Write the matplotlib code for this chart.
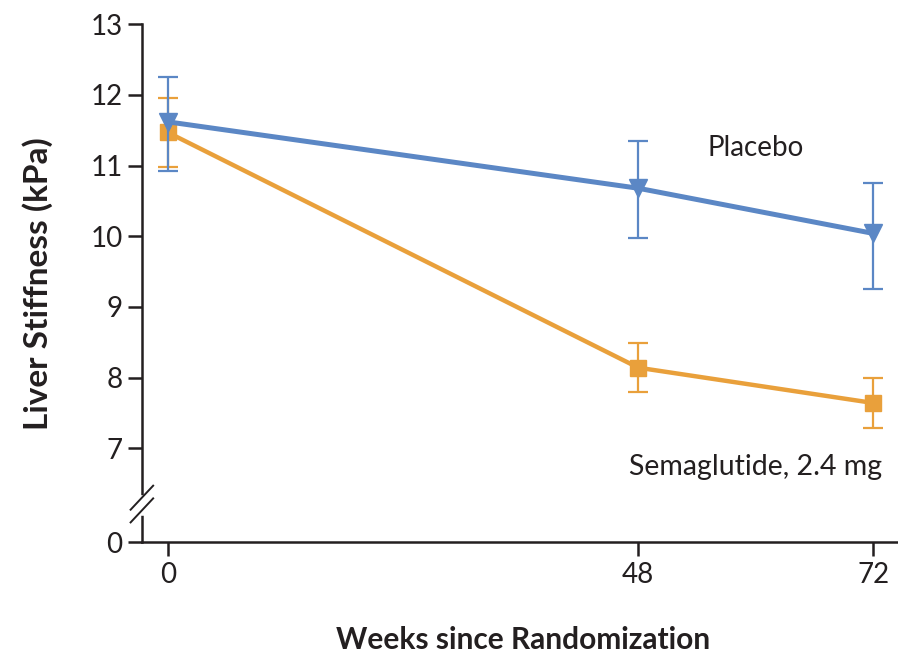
import matplotlib.pyplot as plt

# data
weeks = [0, 48, 72]
placebo = [11.62, 10.68, 10.04]
placebo_lo = [10.93, 9.98, 9.25]
placebo_hi = [12.26, 11.35, 10.76]
sema = [11.47, 8.14, 7.64]
sema_lo = [10.98, 7.80, 7.29]
sema_hi = [11.96, 8.49, 8.00]

ytick_vals = [7, 8, 9, 10, 11, 12, 13]
zero_pos = 5.67  # where the "0" sits on the broken axis

blue = '#5b87c5'
orange = '#e9a03b'
ink = '#231f20'

plt.rcParams['font.family'] = ['Lato', 'DejaVu Sans']

fig = plt.figure(figsize=(8.98, 6.58), dpi=100)
ax = fig.add_axes([0.158, 0.176, 0.842, 0.787])

def err(v, lo, hi):
    return [[a - b for a, b in zip(v, lo)], [b - a for a, b in zip(v, hi)]]

ax.errorbar(weeks, sema, yerr=err(sema, sema_lo, sema_hi), color=orange,
            lw=3.2, marker='s', ms=12, elinewidth=1.6, capsize=7, capthick=1.6,
            zorder=3)
ax.errorbar(weeks, placebo, yerr=err(placebo, placebo_lo, placebo_hi), color=blue,
            lw=3.6, marker='v', ms=13, elinewidth=1.6, capsize=7, capthick=1.6,
            zorder=4)

ax.text(60, 11.25, 'Placebo', fontsize=20, color=ink, ha='center', va='center')
ax.text(72.9, 6.73, 'Semaglutide, 2.4 mg', fontsize=20.5, color=ink,
        ha='right', va='center')

ax.set_xlim(-2.65, 74.5)
ax.set_ylim(zero_pos, 13)
ax.set_xticks(weeks)
ax.set_xticklabels(['0', '48', '72'])
ax.set_yticks([zero_pos] + ytick_vals)
ax.set_yticklabels(['0'] + [str(v) for v in ytick_vals])

for s in ['top', 'right']:
    ax.spines[s].set_visible(False)
for s in ['left', 'bottom']:
    ax.spines[s].set_linewidth(1.8)
    ax.spines[s].set_color(ink)
ax.tick_params(direction='out', length=10, width=1.8, color=ink,
               labelsize=20, labelcolor=ink, pad=4)

ax.set_ylabel('Liver Stiffness (kPa)', fontsize=24, fontweight='bold', color=ink)
ax.set_xlabel('Weeks since Randomization', fontsize=21.5, fontweight='bold', color=ink)
ax.yaxis.set_label_coords(-0.118, 0.5)
ax.xaxis.set_label_coords(0.504, -0.162)

# axis break marks
ax.plot([-2.65, -2.65], [6.08, 6.30], color='white', lw=4, clip_on=False, zorder=5)
for yb in [6.12, 6.30]:
    ax.plot([-3.8, -1.5], [yb - 0.17, yb + 0.17], color=ink, lw=1.4,
            clip_on=False, zorder=6)

fig.savefig('out.png', dpi=100)
